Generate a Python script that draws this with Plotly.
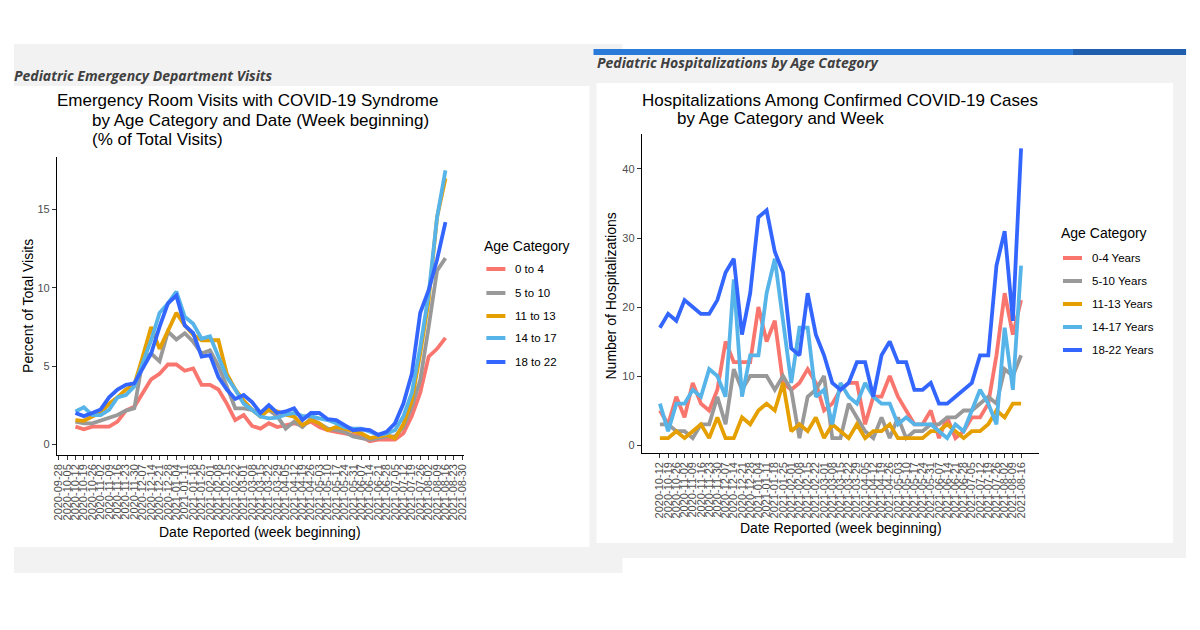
import pandas as pd
import plotly.graph_objects as go

# ---------------- data ----------------
age_left = ["0 to 4", "5 to 10", "11 to 13", "14 to 17", "18 to 22"]
age_right = ["0-4 Years", "5-10 Years", "11-13 Years", "14-17 Years", "18-22 Years"]
colors = ["#F8766D", "#999999", "#E69F00", "#56B4E9", "#3366FF"]

first_week = "2020-10-12"
n_weeks = 45
weeks = pd.date_range(first_week, periods=n_weeks, freq="7D")

left_ticks = pd.date_range("2020-09-28", "2021-08-30", freq="7D")
right_ticks = pd.date_range("2020-10-12", "2021-08-16", freq="7D")

# ER visits (% of total visits)
er_0_4 = [1.13, 0.96, 1.13, 1.13, 1.13, 1.45, 2.15, 2.4, 3.26, 4.15, 4.5, 5.1, 5.1, 4.7, 4.85,
          3.8, 3.8, 3.5, 2.6, 1.55, 1.87, 1.17, 1.0, 1.35, 1.1, 1.23, 1.34, 1.23, 1.45, 1.1,
          0.9, 0.8, 0.7, 0.6, 0.5, 0.2, 0.3, 0.3, 0.3, 0.7, 1.8, 3.3, 5.6, 6.1, 6.8]
er_5_10 = [1.45, 1.34, 1.34, 1.5, 1.66, 1.87, 2.15, 2.3, 5.4, 5.8, 5.3, 7.2, 6.7, 7.1, 6.55,
           5.8, 6.0, 5.0, 3.7, 2.3, 2.3, 2.2, 2.0, 2.2, 1.8, 1.0, 1.45, 1.1, 1.66, 1.34,
           1.0, 0.9, 0.8, 0.5, 0.4, 0.28, 0.4, 0.5, 0.5, 1.1, 2.4, 4.1, 7.5, 11.1, 11.9]
er_11_13 = [1.55, 1.5, 1.77, 2.0, 2.6, 3.0, 3.5, 3.8, 5.6, 7.5, 6.1, 7.3, 8.4, 7.6, 7.0,
            6.65, 6.65, 6.65, 4.5, 3.5, 2.8, 2.2, 1.77, 2.2, 2.1, 1.9, 1.77, 1.23, 1.55, 1.34,
            0.9, 1.1, 1.0, 0.85, 0.7, 0.4, 0.5, 0.6, 0.38, 1.3, 2.8, 5.8, 9.2, 14.5, 17.0]
er_14_17 = [2.1, 2.36, 1.87, 1.87, 2.2, 3.0, 3.15, 3.7, 5.2, 6.65, 8.4, 9.0, 9.75, 8.15, 7.7,
            6.75, 6.9, 5.6, 4.3, 3.5, 2.6, 2.2, 1.77, 1.66, 1.7, 1.9, 2.0, 1.8, 1.8, 1.66,
            1.55, 1.35, 1.1, 1.0, 1.0, 0.8, 0.6, 0.7, 0.9, 1.8, 3.3, 6.2, 9.6, 14.5, 17.5]
er_18_22 = [2.0, 1.8, 2.0, 2.23, 3.0, 3.5, 3.8, 3.9, 4.85, 5.8, 7.5, 9.0, 9.5, 7.6, 7.1,
            5.6, 5.7, 4.3, 3.5, 2.9, 3.15, 2.7, 2.0, 2.5, 2.0, 2.1, 2.3, 1.55, 2.0, 2.0,
            1.6, 1.55, 1.23, 0.9, 0.96, 0.9, 0.6, 0.8, 1.34, 2.6, 4.5, 8.4, 9.85, 11.8, 14.2]

# Hospitalizations (counts)
hosp_0_4 = [5, 3, 7, 4, 9, 6, 5, 8, 15, 12, 12, 12, 20, 15, 18, 9, 8, 9, 11, 9, 5, 6, 8,
            9, 9, 3, 7, 7, 10, 7, 5, 3, 3, 5, 1, 4, 1, 2, 4, 4, 6, 13, 22, 16, 21]
hosp_5_10 = [3, 3, 2, 2, 1, 3, 3, 7, 3, 11, 8, 10, 10, 10, 8, 10, 8, 1, 7, 8, 10, 1, 1,
             6, 4, 2, 1, 4, 1, 4, 1, 2, 2, 3, 3, 4, 4, 5, 5, 6, 7, 6, 11, 10, 13]
hosp_11_13 = [1, 1, 2, 1, 2, 3, 1, 4, 1, 1, 4, 3, 5, 6, 5, 9, 2, 3, 2, 4, 1, 3, 2,
              1, 3, 1, 2, 2, 3, 1, 1, 1, 1, 2, 2, 3, 2, 1, 2, 2, 3, 5, 4, 6, 6]
hosp_14_17 = [6, 2, 6, 6, 8, 7, 11, 10, 7, 24, 7, 13, 13, 22, 27, 18, 9, 17, 17, 7, 8, 3, 9,
              7, 6, 9, 7, 6, 6, 3, 4, 3, 3, 3, 2, 1, 3, 2, 5, 8, 6, 3, 17, 8, 26]
hosp_18_22 = [17, 19, 18, 21, 20, 19, 19, 21, 25, 27, 16, 22, 33, 34, 28, 25, 14, 13, 22, 16, 13, 9, 8,
              9, 12, 12, 7, 13, 15, 12, 12, 8, 8, 9, 6, 6, 7, 8, 9, 13, 13, 26, 31, 18, 43]

er_series = [er_0_4, er_5_10, er_11_13, er_14_17, er_18_22]
hosp_series = [hosp_0_4, hosp_5_10, hosp_11_13, hosp_14_17, hosp_18_22]

er_yticks = [0, 5, 10, 15]
hosp_yticks = [0, 10, 20, 30, 40]

# ---------------- layout helpers ----------------
W, H = 1200, 630
# the capture maps page x to 5.1 + 0.9915*x; compensate so pixels land on target
def fx(x):
    return ((x - 5.1) / 0.9915) / W
def fy(y):
    return 1 - y / H

FONT = "Liberation Sans, Arial, sans-serif"
TICKC = "#4d4d4d"

fig = go.Figure()

for name, ys, c in zip(age_left, er_series, colors):
    fig.add_trace(go.Scatter(x=weeks, y=ys, mode="lines", name=name,
                             line=dict(color=c, width=3.8), xaxis="x", yaxis="y",
                             showlegend=False))
for name, ys, c in zip(age_right, hosp_series, colors):
    fig.add_trace(go.Scatter(x=weeks, y=ys, mode="lines", name=name,
                             line=dict(color=c, width=3.8), xaxis="x2", yaxis="y2",
                             showlegend=False))

pad = pd.Timedelta(days=15.4)
xr = [weeks[0] - pad, weeks[-1] + pad]

axis_common = dict(showline=True, linecolor="black", linewidth=1.2, ticks="outside",
                   ticklen=4, tickwidth=1, tickcolor="#333333", showgrid=False,
                   zeroline=False, tickfont=dict(family=FONT, size=11, color=TICKC))

fig.update_layout(
    width=W, height=H, margin=dict(l=0, r=0, t=0, b=0),
    paper_bgcolor="white", plot_bgcolor="rgba(0,0,0,0)",
    xaxis=dict(domain=[fx(57), fx(463.6)], range=xr, anchor="y",
               tickvals=list(left_ticks), ticktext=[d.strftime("%Y-%m-%d") for d in left_ticks],
               tickangle=-90, **axis_common),
    yaxis=dict(domain=[fy(454.7), fy(156.9)], range=[-0.665, 18.365], anchor="x",
               tickvals=er_yticks, ticktext=[str(v) for v in er_yticks], **axis_common),
    xaxis2=dict(domain=[fx(641.3), fx(1038.2)], range=xr, anchor="y2",
                tickvals=list(right_ticks), ticktext=[d.strftime("%Y-%m-%d") for d in right_ticks],
                tickangle=-90, **axis_common),
    yaxis2=dict(domain=[fy(452.6), fy(133.8)], range=[-1.1, 45.1], anchor="x2",
                tickvals=hosp_yticks, ticktext=[str(v) for v in hosp_yticks], **axis_common),
)

shapes = []
def rect(x0, y0, x1, y1, color):
    shapes.append(dict(type="rect", xref="paper", yref="paper", layer="below",
                       x0=fx(x0), x1=fx(x1), y0=fy(y1), y1=fy(y0),
                       fillcolor=color, line=dict(width=0)))

rect(14, 44, 622, 573, "#f2f2f2")
rect(14, 86, 589, 547, "#ffffff")
rect(593, 49, 1185, 558, "#f2f2f2")
rect(596, 83, 1172, 543, "#ffffff")
rect(593, 49, 1072, 55, "#2a7bd9")
rect(1072, 49, 1185, 55, "#1f5fae")

annotations = []
def text(x, y, s, size, color="black", xanchor="left", angle=0, family=FONT):
    annotations.append(dict(xref="paper", yref="paper", x=fx(x), y=fy(y), text=s,
                            showarrow=False, xanchor=xanchor, yanchor="middle",
                            textangle=angle, font=dict(family=family, size=size, color=color)))

HDR = "Open Sans, Noto Sans, sans-serif"
text(12, 75, "<b><i>Pediatric Emergency Department Visits</i></b>", 14, "#404040", family=HDR)
text(595, 63, "<b><i>Pediatric Hospitalizations by Age Category</i></b>", 14, "#404040", family=HDR)

text(55, 101, "Emergency Room Visits with COVID-19 Syndrome", 17)
text(90, 120, "by Age Category and Date (Week beginning)", 17)
text(90, 139, "(% of Total Visits)", 17)
text(639, 100, "Hospitalizations Among Confirmed COVID-19 Cases", 17)
text(674, 118, "by Age Category and Week", 17)

text(260, 532, "Date Reported (week beginning)", 14, xanchor="center")
text(28, 306, "Percent of Total Visits", 14, xanchor="center", angle=-90)
text(840, 528, "Date Reported (week beginning)", 14, xanchor="center")
text(610, 296, "Number of Hospitalizations", 14, xanchor="center", angle=-90)

# legends
def legend(x_title, y_title, x_key0, x_key1, x_lab, rows, labels):
    text(x_title, y_title, "Age Category", 14)
    for yy, lab, c in zip(rows, labels, colors):
        shapes.append(dict(type="line", xref="paper", yref="paper",
                           x0=fx(x_key0), x1=fx(x_key1), y0=fy(yy), y1=fy(yy),
                           line=dict(color=c, width=4)))
        text(x_lab, yy, lab, 11.5)

legend(482, 246, 486, 505, 513, [269, 293, 316, 338, 362], age_left)
legend(1058, 233, 1062, 1081, 1089, [258, 281, 304, 327, 350], age_right)

fig.update_layout(shapes=shapes, annotations=annotations)
fig.write_html(
    "out.html",
    config={"displayModeBar": False},
    post_script="document.body.style.margin='0';document.body.style.padding='0';"
                "document.body.style.overflow='hidden';",
)
